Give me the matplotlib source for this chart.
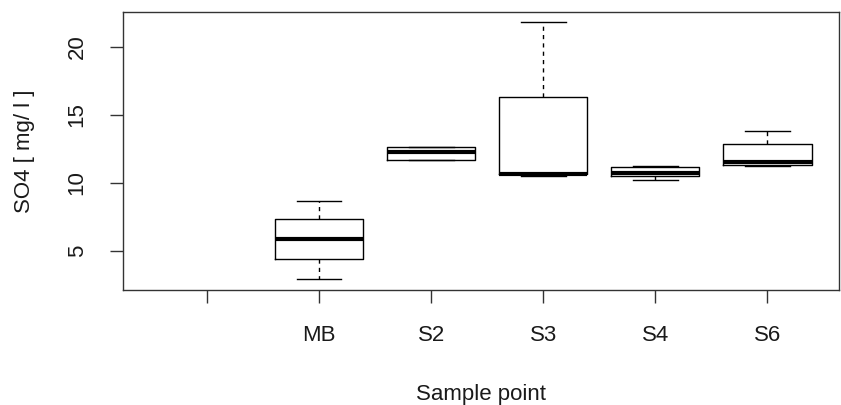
import matplotlib.pyplot as plt

plt.rcParams['font.family'] = ['Liberation Sans', 'DejaVu Sans']

# sample points (first slot is an empty group, as in the original)
labels = ['', 'MB', 'S2', 'S3', 'S4', 'S6']
lower = [None, 2.88, 11.67, 10.50, 10.22, 11.23]
q1 = [None, 4.35, 11.67, 10.62, 10.52, 11.31]
median = [None, 5.83, 12.26, 10.68, 10.69, 11.51]
q3 = [None, 7.30, 12.61, 16.30, 11.13, 12.85]
upper = [None, 8.65, 12.61, 21.83, 11.25, 13.81]

stats = []
pos = []
for i in range(len(labels)):
    if median[i] is None:
        continue
    stats.append(dict(whislo=lower[i], q1=q1[i], med=median[i], q3=q3[i],
                      whishi=upper[i], fliers=[]))
    pos.append(i + 1)

fig = plt.figure(figsize=(8.41, 4.05), dpi=100)
ax = fig.add_axes([123 / 841, 1 - 290 / 405, 716 / 841, 278 / 405])

ax.bxp(stats, positions=pos, widths=0.79, showfliers=False,
       boxprops=dict(color='black', linewidth=1.0),
       medianprops=dict(color='black', linewidth=3.0, solid_capstyle='butt'),
       whiskerprops=dict(color='black', linewidth=1.0, linestyle=(0, (3, 3))),
       capprops=dict(color='black', linewidth=1.0), capwidths=0.4)

ax.set_xlim(0.25, 6.64)
ax.set_ylim(2.09, 22.59)
ax.set_xticks(range(1, len(labels) + 1))
ax.set_xticklabels(labels)
ax.set_yticks([5, 10, 15, 20])
ax.set_yticklabels(['5', '10', '15', '20'], rotation=90, va='center')

for s in ax.spines.values():
    s.set_color('#333333')
    s.set_linewidth(1.0)
ax.tick_params(axis='both', length=9.4, width=1.0, color='#333333',
               labelsize=16, labelcolor='#1a1a1a')
ax.tick_params(axis='y', pad=16)
ax.tick_params(axis='x', pad=16)

ax.set_xlabel('Sample point', fontsize=16, color='#1a1a1a', labelpad=27)
ax.set_ylabel('SO4 [ mg/ l ]', fontsize=16, color='#1a1a1a', labelpad=23)

fig.savefig('out.png', dpi=100)
